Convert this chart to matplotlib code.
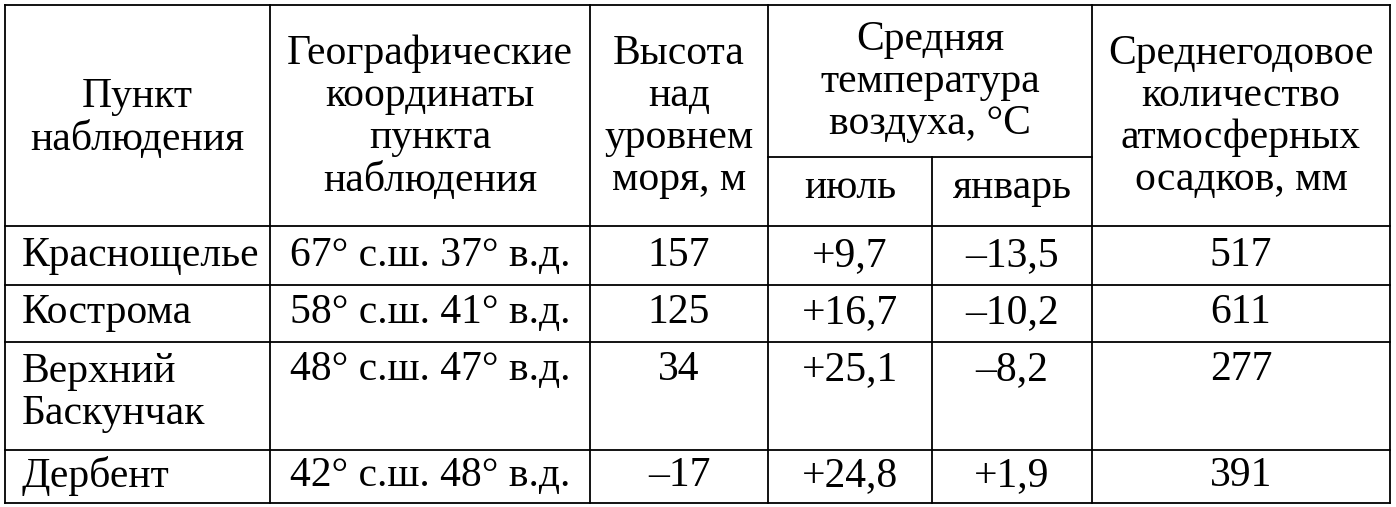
import matplotlib
matplotlib.use("Agg")
import matplotlib.pyplot as plt

headers = ["Пункт\nнаблюдения", "Географические\nкоординаты\nпункта\nнаблюдения",
           "Высота\nнад\nуровнем\nморя, м", "Средняя\nтемпература\nвоздуха, °C",
           "Среднегодовое\nколичество\nатмосферных\nосадков, мм"]
subheaders = ["июль", "январь"]
stations = ["Краснощелье", "Кострома", "Верхний\nБаскунчак", "Дербент"]
coords = ["67° с.ш. 37° в.д.", "58° с.ш. 41° в.д.", "48° с.ш. 47° в.д.", "42° с.ш. 48° в.д."]
heights = ["157", "125", "34", "–17"]
july = ["+9,7", "+16,7", "+25,1", "+24,8"]
january = ["–13,5", "–10,2", "–8,2", "+1,9"]
precip = ["517", "611", "277", "391"]

W, H = 1396, 507
fig = plt.figure(figsize=(W/100, H/100), dpi=100)
ax = fig.add_axes([0, 0, 1, 1])
ax.set_xlim(0, W); ax.set_ylim(H, 0); ax.axis("off")

xs = [5, 270, 590, 768, 932, 1092, 1390]
ys = [5, 226, 285, 342, 450, 503]
lw = 1.3
for k, x in enumerate(xs):
    if k == 4:
        ax.plot([x, x], [157, ys[-1]], color="black", lw=lw)
    else:
        ax.plot([x, x], [ys[0], ys[-1]], color="black", lw=lw)
for y in ys:
    ax.plot([xs[0], xs[-1]], [y, y], color="black", lw=lw)
ax.plot([xs[3], xs[5]], [157, 157], color="black", lw=lw)

fs = 30
font = dict(family="Liberation Serif", fontsize=fs, linespacing=1.12)
cx = lambda i: (xs[i] + xs[i+1]) / 2

ax.text(cx(0), 118, headers[0], ha="center", va="center", **font)
ax.text(cx(1), 117, headers[1], ha="center", va="center", **font)
ax.text(cx(2), 117, headers[2], ha="center", va="center", **font)
ax.text((xs[3]+xs[5])/2, 82, headers[3], ha="center", va="center", **font)
ax.text(cx(3), 188, subheaders[0], ha="center", va="center", **font)
ax.text(cx(4), 188, subheaders[1], ha="center", va="center", **font)
ax.text(cx(5), 117, headers[4], ha="center", va="center", **font)

row_top = [256, 313, 370, 476]
for r in range(4):
    y = row_top[r]
    if "\n" in stations[r]:
        ax.text(22, y + 23, stations[r], ha="left", va="center", **font)
    else:
        ax.text(22, y, stations[r], ha="left", va="center", **font)
    for i, v in zip([1, 2, 3, 4, 5], [coords[r], heights[r], july[r], january[r], precip[r]]):
        ax.text(cx(i), y, v, ha="center", va="center", **font)

fig.savefig("out.png", dpi=100, facecolor="white")
